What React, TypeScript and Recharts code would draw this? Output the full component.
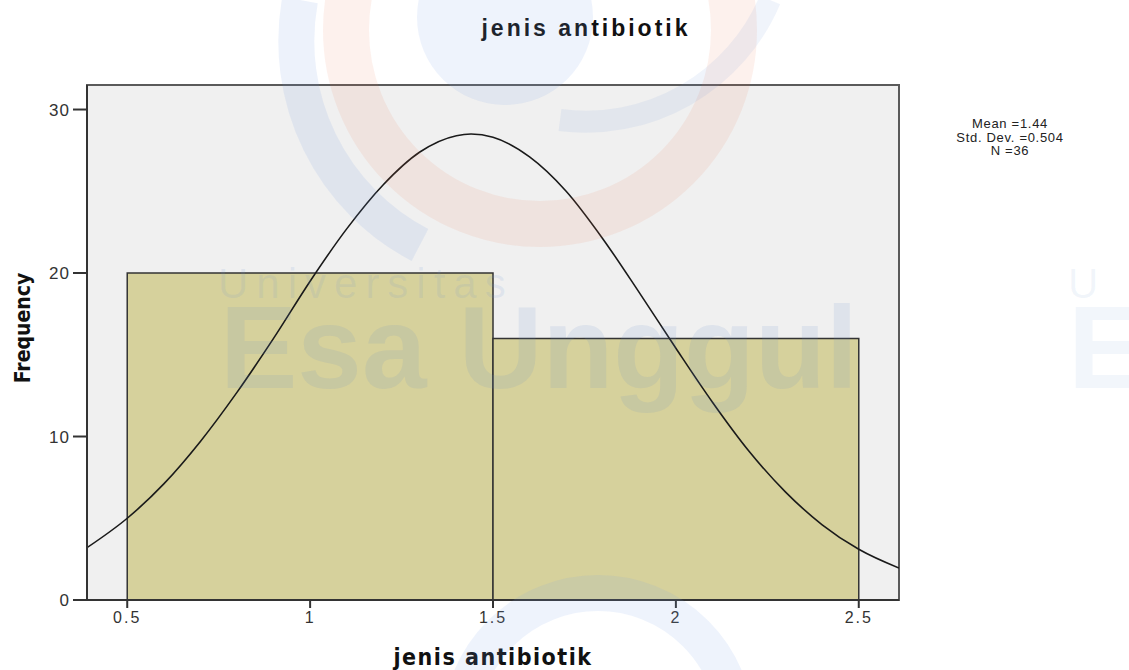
import React from 'react'
import {
  ComposedChart,
  Line,
  XAxis,
  YAxis,
  ReferenceArea,
  Label,
} from 'recharts'

// histogram bins (lower edge, upper edge, frequency)
const binStarts = [0.5, 1.5]
const binEnds = [1.5, 2.5]
const binCounts = [20, 16]

// normal curve
const curveX = [0.39, 0.5, 0.6, 0.7, 0.8, 0.9, 1.0, 1.1, 1.2, 1.3, 1.4, 1.44, 1.5, 1.6, 1.7, 1.8, 1.9, 2.0, 2.1, 2.2, 2.3, 2.4, 2.5, 2.61]
const curveY = [3.2, 5.0, 7.1, 9.7, 12.7, 16.0, 19.5, 22.7, 25.4, 27.4, 28.4, 28.5, 28.3, 27.1, 25.0, 22.1, 18.8, 15.4, 12.1, 9.1, 6.6, 4.6, 3.1, 1.95]

const xTicks = [0.5, 1, 1.5, 2, 2.5]
const yTicks = [0, 10, 20, 30]
const xDomain = [0.39, 2.61]
const yDomain = [0, 31.5]

const statLines = ['Mean =1.44', 'Std. Dev. =0.504', 'N =36']

const curveData = curveX.map((x, i) => ({ x, y: curveY[i] }))

const FONT = '"Liberation Sans", Arial, sans-serif'
const NARROW = '"Liberation Sans Narrow", "DejaVu Sans Condensed", Arial, sans-serif'

// faint university logo behind / over the plot
function Watermark() {
  return (
    <svg
      width={1129}
      height={670}
      style={{ position: 'absolute', left: 0, top: 0, pointerEvents: 'none' }}
    >
      <circle cx={505} cy={17} r={88} fill="rgba(120,160,230,0.13)" />
      <circle cx={540} cy={30} r={194} fill="none" stroke="rgba(240,120,80,0.10)" strokeWidth={46} />
      <path d="M 300 0 A 230 230 0 0 0 420 245" fill="none" stroke="rgba(110,150,220,0.12)" strokeWidth={36} />
      <path d="M 770 0 A 200 200 0 0 1 560 120" fill="none" stroke="rgba(110,150,220,0.10)" strokeWidth={22} />
      <circle cx={598} cy={731} r={138} fill="none" stroke="rgba(120,160,230,0.13)" strokeWidth={36} />
      <text x={218} y={298} fontFamily={FONT} fontSize={42} letterSpacing={8} fill="rgba(110,150,210,0.12)">
        Universitas
      </text>
      <text x={220} y={388} fontFamily={FONT} fontWeight="bold" fontSize={116} fill="rgba(100,140,200,0.13)">
        Esa Unggul
      </text>
      <text x={1068} y={298} fontFamily={FONT} fontSize={42} fill="rgba(110,150,210,0.09)">
        U
      </text>
      <text x={1068} y={388} fontFamily={FONT} fontWeight="bold" fontSize={116} fill="rgba(110,150,210,0.09)">
        E
      </text>
      <text
        transform="translate(30,328) rotate(-90)"
        textAnchor="middle"
        fontFamily={NARROW}
        fontWeight="bold"
        fontSize={21}
        fill="#111"
      >
        Frequency
      </text>
    </svg>
  )
}

export default function App() {
  return (
    <div style={{ position: 'absolute', left: 0, top: 0, width: 1129, height: 670, background: '#fff' }}>
      <div
        style={{
          position: 'absolute',
          left: 0,
          width: 1172,
          top: 15,
          textAlign: 'center',
          fontFamily: FONT,
          fontWeight: 'bold',
          fontSize: 23,
          letterSpacing: 3,
          color: '#111',
        }}
      >
        jenis antibiotik
      </div>
      <ComposedChart
        width={1129}
        height={670}
        data={curveData}
        margin={{ top: 85, right: 230, bottom: 0, left: 30 }}
      >
        <ReferenceArea
          x1={xDomain[0]}
          x2={xDomain[1]}
          y1={yDomain[0]}
          y2={yDomain[1]}
          fill="#f0f0f0"
          fillOpacity={1}
          stroke="#5a5a5a"
          strokeWidth={2}
          ifOverflow="extendDomain"
        />
        {binStarts.map((start, i) => (
          <ReferenceArea
            key={start}
            x1={start}
            x2={binEnds[i]}
            y1={0}
            y2={binCounts[i]}
            fill="#d6d19c"
            fillOpacity={1}
            stroke="#333"
            strokeWidth={1.5}
          />
        ))}
        <XAxis
          type="number"
          dataKey="x"
          domain={xDomain}
          ticks={xTicks}
          allowDataOverflow
          height={70}
          tickSize={8}
          tickMargin={4}
          stroke="#333"
          strokeWidth={2}
          tick={{ fill: '#333', fontSize: 16, fontFamily: FONT, letterSpacing: 2 }}
          tickFormatter={(v: number) => String(v)}
        >
          <Label
            value="jenis antibiotik"
            position="insideBottom"
            offset={5}
            style={{ fontFamily: NARROW, fontWeight: 'bold', fontSize: 23, letterSpacing: 1.5, fill: '#111' }}
          />
        </XAxis>
        <YAxis
          type="number"
          domain={yDomain}
          ticks={yTicks}
          allowDataOverflow
          width={57}
          tickSize={14}
          tickMargin={3}
          stroke="#333"
          strokeWidth={2}
          tick={{ fill: '#333', fontSize: 17, fontFamily: FONT, letterSpacing: 1 }}
        />
        <Line
          type="monotone"
          dataKey="y"
          stroke="#1a1a1a"
          strokeWidth={1.6}
          dot={false}
          activeDot={false}
          isAnimationActive={false}
        />
      </ComposedChart>
      <div
        style={{
          position: 'absolute',
          left: 940,
          width: 140,
          top: 117,
          textAlign: 'center',
          fontFamily: FONT,
          fontSize: 13,
          letterSpacing: 0.7,
          lineHeight: '13.5px',
          color: '#222',
        }}
      >
        {statLines.map((s) => (
          <div key={s}>{s}</div>
        ))}
      </div>
      <Watermark />
    </div>
  )
}
